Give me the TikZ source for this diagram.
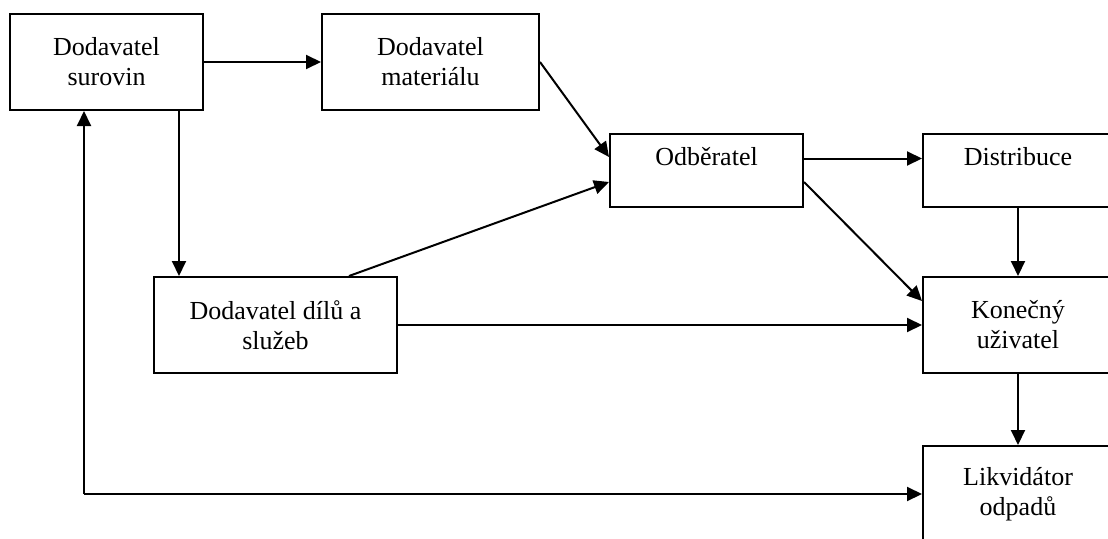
\documentclass[tikz,border=0pt]{standalone}
\usepackage{fontspec}
\setmainfont{Liberation Serif}
\usetikzlibrary{arrows.meta}

\tikzset{
    box/.style={draw, line width=2pt, align=center, inner sep=0pt,
        font=\fontsize{26}{30}\selectfont},
    toptext/.style={text depth=28pt},
    arr/.style={line width=2pt, -{Triangle[length=15pt,width=14pt]}}
}

\begin{document}
\begin{tikzpicture}[x=1pt,y=-1pt]
    \useasboundingbox (0,0) rectangle (1108,538);
    \clip (0,0) rectangle (1108,538);

    \node[box, minimum width=193pt, minimum height=96pt] (sur) at (106.5,62) {Dodavatel\\surovin};
    \node[box, minimum width=217pt, minimum height=96pt] (mat) at (430.5,62) {Dodavatel\\materiálu};
    \node[box, toptext, minimum width=193pt, minimum height=73pt] (odb) at (706.5,170.5) {Odběratel};
    \node[box, toptext, minimum width=190pt, minimum height=73pt] (dis) at (1018,170.5) {Distribuce};
    \node[box, minimum width=243pt, minimum height=96pt] (dil) at (275.5,325) {Dodavatel dílů a\\služeb};
    \node[box, minimum width=190pt, minimum height=96pt] (kon) at (1018,325) {Konečný\\uživatel};
    \node[box, minimum width=190pt, minimum height=96pt] (lik) at (1018,494) {Likvidátor\\odpadů};

    \coordinate (back) at ([xshift=75pt]sur.south west |- lik.west);

    \draw[arr] (sur.east) -- (mat.west);
    \draw[arr] ([xshift=-25pt]sur.south east) -- ([xshift=-25pt]sur.south east |- dil.north);
    \draw[arr] (mat.east) -- ([yshift=13.5pt]odb.west);
    \draw[arr] ([xshift=-49pt]dil.north east) -- ([yshift=-11.5pt]odb.west);
    \draw[arr] ([yshift=12pt]odb.east) -- ([yshift=12pt]odb.east -| dis.west);
    \draw[arr] ([yshift=-11.5pt]odb.east) -- ([yshift=24pt]kon.west);
    \draw[arr] (dil.east) -- (kon.west);
    \draw[arr] (dis.south) -- (kon.north);
    \draw[arr] (kon.south) -- (lik.north);
    \draw[arr] (back) -- (lik.west);
    \draw[arr] (back) -- (back |- sur.south);
\end{tikzpicture}
\end{document}
